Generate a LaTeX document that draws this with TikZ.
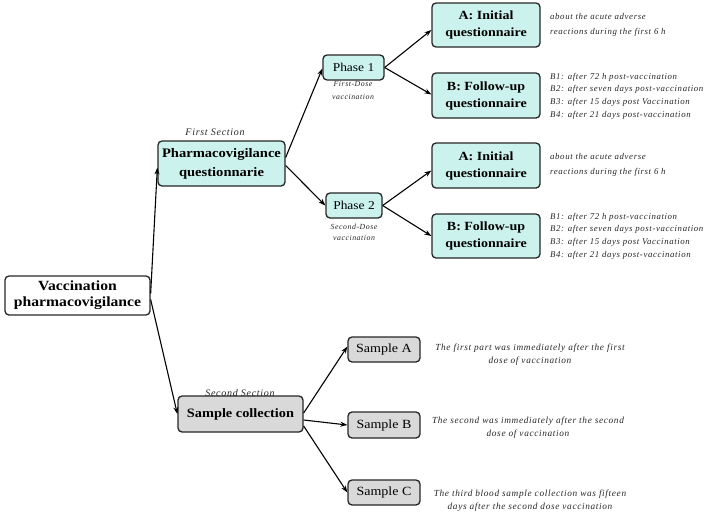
\documentclass[tikz,border=0pt]{standalone}
\usepackage{fontspec}
\setmainfont{Liberation Serif}
\newfontfamily\spit{Liberation Serif}[LetterSpace=7]
\newfontfamily\bx{Liberation Serif}[FakeStretch=1.12]
\usetikzlibrary{arrows.meta}
\definecolor{cyanfill}{HTML}{CCF2EE}
\definecolor{grayfill}{HTML}{D9D9D9}
\definecolor{notegray}{HTML}{262626}
\tikzset{
  box/.style={draw=black!85, line width=1.3pt, rounded corners=4pt, align=center, inner sep=0pt},
  cbox/.style={box, fill=cyanfill},
  gbox/.style={box, fill=grayfill},
  note/.style={font=\spit\itshape\fontsize{8.8}{12.7}\selectfont, text=notegray, inner sep=0pt},
  snote/.style={note, align=center, font=\spit\itshape\fontsize{9.3}{13}\selectfont},
  arr/.style={line width=1.1pt, -{Stealth[length=7pt,width=5pt]}},
}
\begin{document}
\begin{tikzpicture}[x=1pt,y=-1pt]
\useasboundingbox (0,0) rectangle (714,515);
% main nodes
\node[box, minimum width=145, minimum height=39, font=\bx\bfseries\fontsize{14}{16}\selectfont] (vp) at (77.5,295.5) {Vaccination\\pharmacovigilance};
\node[cbox, minimum width=127, minimum height=45, font=\bx\bfseries\fontsize{13}{19}\selectfont] (pq) at (221.5,163.5) {Pharmacovigilance\\questionnarie};
\node[gbox, minimum width=125, minimum height=36, font=\bx\bfseries\fontsize{12.8}{16}\selectfont] (sc) at (240.5,414) {Sample collection};
% phases
\node[cbox, minimum width=61, minimum height=25, font=\bx\fontsize{12}{15}\selectfont] (p1) at (353.5,67.5) {Phase 1};
\node[cbox, minimum width=56, minimum height=25, font=\bx\fontsize{12}{15}\selectfont] (p2) at (354,205.5) {Phase 2};
% questionnaires
\node[cbox, minimum width=108, minimum height=44, font=\bx\bfseries\fontsize{12.5}{17}\selectfont] (a1) at (486,25) {A: Initial\\questionnaire};
\node[cbox, minimum width=108, minimum height=45, font=\bx\bfseries\fontsize{12.5}{17}\selectfont] (b1) at (486,95.5) {B: Follow-up\\questionnaire};
\node[cbox, minimum width=108, minimum height=45, font=\bx\bfseries\fontsize{12.5}{17}\selectfont] (a2) at (486,165.5) {A: Initial\\questionnaire};
\node[cbox, minimum width=108, minimum height=44, font=\bx\bfseries\fontsize{12.5}{17}\selectfont] (b2) at (486,236) {B: Follow-up\\questionnaire};
% samples
\node[gbox, minimum width=72, minimum height=25, font=\bx\fontsize{12.5}{15}\selectfont] (sa) at (384,349.5) {Sample A};
\node[gbox, minimum width=72, minimum height=26, font=\bx\fontsize{12.5}{15}\selectfont] (sb) at (384,425) {Sample B};
\node[gbox, minimum width=72, minimum height=25, font=\bx\fontsize{12.5}{15}\selectfont] (scc) at (384,492.5) {Sample C};
% labels
\node[note, font=\spit\itshape\fontsize{10}{12}\selectfont] (l1) at (215,132) {First Section};
\node[note, font=\spit\itshape\fontsize{10}{12}\selectfont] (l2) at (240,393) {Second Section};
\node[note, align=center, font=\spit\itshape\fontsize{7.8}{12.5}\selectfont] (l3) at (353,90.5) {First-Dose\\vaccination};
\node[note, align=center, font=\spit\itshape\fontsize{7.8}{11.5}\selectfont] (l4) at (354,232.5) {Second-Dose\\vaccination};
% notes
\node[note, anchor=west, align=left, font=\spit\itshape\fontsize{8.8}{15}\selectfont] (n1) at (550,24.5) {about the acute adverse\\reactions during the first 6 h};
\node[note, anchor=west, align=left] (n2) at (550,96) {B1: after 72 h post-vaccination\\B2: after seven days post-vaccination\\B3: after 15 days post Vaccination\\B4: after 21 days post-vaccination};
\node[note, anchor=west, align=left, font=\spit\itshape\fontsize{8.8}{15}\selectfont] (n3) at (550,164.5) {about the acute adverse\\reactions during the first 6 h};
\node[note, anchor=west, align=left] (n4) at (550,236) {B1: after 72 h post-vaccination\\B2: after seven days post-vaccination\\B3: after 15 days post Vaccination\\B4: after 21 days post-vaccination};
\node[snote] (n5) at (530,355) {The first part was immediately after the first\\dose of vaccination};
\node[snote] (n6) at (528,428) {The second was immediately after the second\\dose of vaccination};
\node[snote] (n7) at (530,500.5) {The third blood sample collection was fifteen\\days after the second dose vaccination};
% arrows
\draw[arr] ([yshift=2]vp.east) -- ([yshift=-4]pq.west);
\draw[arr] ([yshift=-4]vp.east) -- (sc.west);
\draw[arr] ([yshift=6]pq.east) -- ([yshift=-1]p1.west);
\draw[arr] ([yshift=-2]pq.east) -- (p2.west);
\draw[arr] (p1.east) -- ([yshift=-5]a1.west);
\draw[arr] (p1.east) -- ([yshift=1]b1.west);
\draw[arr] (p2.east) -- ([yshift=-5]a2.west);
\draw[arr] (p2.east) -- (b2.west);
\draw[arr] ([yshift=1]sc.east) -- ([yshift=3]sa.west);
\draw[arr] ([yshift=-6]sc.east) -- (sb.west);
\draw[arr] ([yshift=-12]sc.east) -- (scc.west);
\end{tikzpicture}
\end{document}
